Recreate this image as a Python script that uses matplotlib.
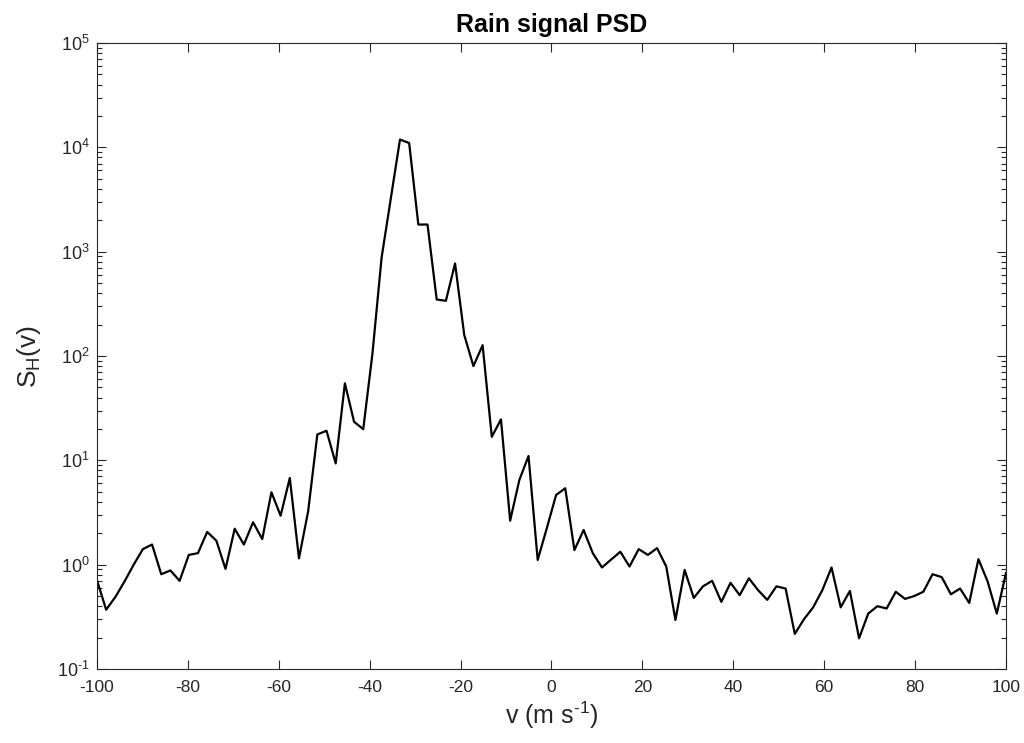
import numpy as np
import matplotlib
matplotlib.use('Agg')
import matplotlib.pyplot as plt
from matplotlib.ticker import LogLocator, FixedLocator, MultipleLocator, FuncFormatter

# velocity grid, 100 evenly spaced bins
v = np.linspace(-100, 100, 100)

# power spectral density
psd = [0.71, 0.37, 0.49, 0.69, 1.0, 1.41, 1.56, 0.81, 0.88, 0.70,
       1.24, 1.29, 2.06, 1.70, 0.91, 2.21, 1.56, 2.55, 1.76, 4.94,
       2.95, 6.77, 1.15, 3.25, 17.7, 19.2, 9.35, 54.7, 23.4, 19.9,
       105, 880, 3230, 11880, 11000, 1820, 1820, 348, 338, 771,
       159, 80, 127, 16.8, 24.7, 2.64, 6.48, 11.0, 1.11, 2.25,
       4.65, 5.40, 1.38, 2.15, 1.29, 0.94, 1.12, 1.33, 0.96, 1.41,
       1.24, 1.44, 0.96, 0.295, 0.89, 0.48, 0.62, 0.70, 0.44, 0.67,
       0.51, 0.74, 0.57, 0.46, 0.62, 0.59, 0.217, 0.30, 0.39, 0.57,
       0.94, 0.39, 0.56, 0.197, 0.34, 0.40, 0.38, 0.55, 0.47, 0.50,
       0.55, 0.81, 0.76, 0.52, 0.59, 0.43, 1.13, 0.69, 0.34, 0.83]

decades = [1e-1, 1e0, 1e1, 1e2, 1e3, 1e4, 1e5]

plt.rcParams['font.family'] = ['Liberation Sans', 'DejaVu Sans']
plt.rcParams['mathtext.fontset'] = 'custom'
plt.rcParams['mathtext.rm'] = 'Liberation Sans'
plt.rcParams['mathtext.it'] = 'Liberation Sans'
plt.rcParams['mathtext.default'] = 'regular'
plt.rcParams['axes.unicode_minus'] = False

axcol = '#262626'


def decade_label(y, pos):
    # MATLAB style 10^n with a plain hyphen for negative exponents
    e = int(round(np.log10(y)))
    if e < 0:
        return r'$10^{\text{-}%d}$' % (-e)
    return r'$10^{%d}$' % e


fig = plt.figure(figsize=(10.24, 7.43), dpi=100)
ax = fig.add_axes([0.0947, 0.0996, 0.8877, 0.8425])

ax.plot(v, psd, color='black', lw=1.6)

ax.set_yscale('log')
ax.set_xlim(-100, 100)
ax.set_ylim(decades[0], decades[-1])
ax.xaxis.set_major_locator(MultipleLocator(20))
ax.yaxis.set_major_locator(FixedLocator(decades))
ax.yaxis.set_minor_locator(LogLocator(base=10, subs=np.arange(2, 10), numticks=20))
ax.yaxis.set_major_formatter(FuncFormatter(decade_label))
ax.xaxis.set_major_formatter(FuncFormatter(lambda x, p: '%d' % x))

ax.tick_params(which='both', direction='in', top=True, right=True,
               colors=axcol, labelcolor=axcol, width=0.8)
ax.tick_params(which='major', length=6.5)
ax.tick_params(which='minor', length=3.5)
ax.tick_params(axis='x', labelsize=12.5, pad=8)
ax.tick_params(axis='y', labelsize=13, pad=5)
for s in ax.spines.values():
    s.set_color(axcol)
    s.set_linewidth(0.8)

ax.set_title('Rain signal PSD', fontsize=18, fontweight='bold', color='black', pad=8)
ax.set_xlabel(r'v (m s$^{\text{-}1}$)', fontsize=18, color=axcol, labelpad=3)
ax.set_ylabel(r'S$_H$(v)', fontsize=19, color=axcol, labelpad=10)

fig.savefig('out.png', dpi=100)
